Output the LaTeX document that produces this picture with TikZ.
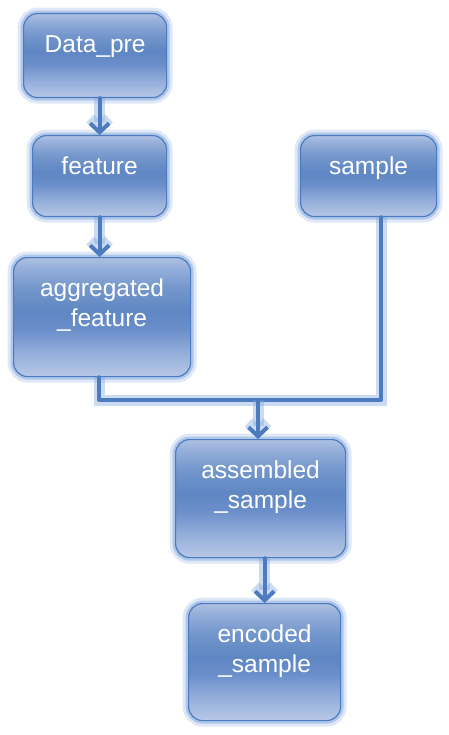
\documentclass[tikz,border=0pt]{standalone}
\usepackage{fontspec}
\setmainfont{Liberation Sans}
\usetikzlibrary{positioning,arrows.meta,calc}

\definecolor{boxline}{HTML}{4C7BBF}
\definecolor{glowc}{HTML}{7FA5DD}
\definecolor{fadeA}{HTML}{B8C8E7}
\definecolor{fadeB}{HTML}{93AEDA}
\definecolor{fadeC}{HTML}{6A8ECA}
\definecolor{fadeD}{HTML}{5F87C3}
\definecolor{fadeE}{HTML}{7497CC}
\definecolor{fadeF}{HTML}{97B0DB}
\definecolor{fadeG}{HTML}{AEC0E1}
\pgfdeclareverticalshading{boxfade}{100bp}{%
  color(0bp)=(fadeA); color(25bp)=(fadeA);
  color(35bp)=(fadeB); color(45bp)=(fadeC);
  color(52.5bp)=(fadeD); color(62.5bp)=(fadeE);
  color(71bp)=(fadeF); color(75bp)=(fadeG);
  color(100bp)=(fadeG)}

\begin{document}
\begin{tikzpicture}[x=1pt,y=-1pt,
  every node/.style={font=\fontsize{24.5}{29.5}\selectfont, text=white, align=center},
  blk/.style={anchor=north west, rounded corners=14pt, draw=boxline, line width=1.2pt,
    shade, shading=boxfade,
    inner sep=0pt, text height=39pt,
    preaction={draw=glowc, line width=12pt, opacity=0.25},
    preaction={draw=glowc, line width=6pt, opacity=0.5}},
  link/.style={draw=boxline, line width=4pt, line cap=round, line join=round,
    preaction={draw=glowc, line width=11pt, opacity=0.4}},
  >={Straight Barb[length=9pt,width=19pt]}]
  \useasboundingbox (0,0) rectangle (448,735);

  % boxes
  \node[blk, minimum width=143pt, text depth=45pt] (dp) at (23,13) {Data\_pre};
  \node[blk, minimum width=134pt, text depth=42pt] (fe) at (32,135) {feature};
  \node[blk, minimum width=177pt, text height=68.5pt, text depth=50.5pt] (ag) at (13,257) {aggregated\\\_feature};
  \node[blk, minimum width=136pt, text depth=42pt] (sm) at (300,135) {sample};
  \node[blk, minimum width=170pt, text height=68.5pt, text depth=49.5pt] (as) at (175,439) {assembled\\\_sample};
  \node[blk, minimum width=152pt, text height=68.5pt, text depth=48.5pt] (en) at (188,603) {encoded\\\_sample};

  % joins
  \coordinate (jl) at (99,400);
  \coordinate (jr) at (381,400);
  \coordinate (jn) at (258,400);

  \draw[link,->] (dp.south -| fe.north) -- (fe.north);
  \draw[link,->] (fe.south) -- (fe.south |- ag.north);
  \draw[link] (ag.south -| jl) -- (jl) -- (jr) -- (sm.south -| jr);
  \draw[link,->] (jn) -- (as.north -| jn);
  \draw[link,->] (as.south -| en.north) -- (en.north);
\end{tikzpicture}
\end{document}
